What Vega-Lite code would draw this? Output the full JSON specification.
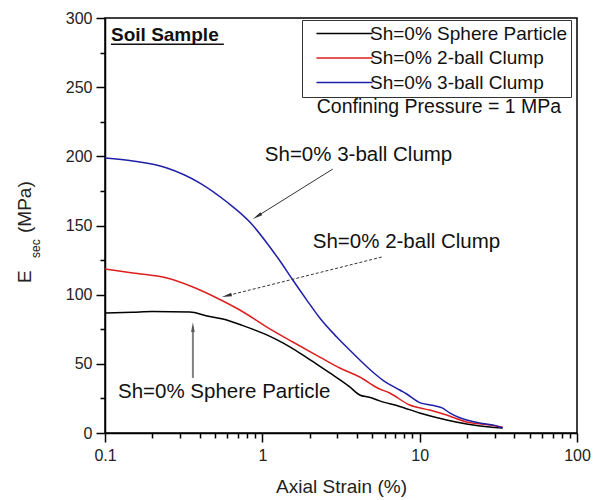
{
  "$schema": "https://vega.github.io/schema/vega-lite/v6.json",
  "autosize": {"type": "none"},
  "padding": {"left": 105, "top": 18, "right": 21, "bottom": 67},
  "width": 472,
  "height": 415,
  "background": "white",
  "config": {
    "view": {"stroke": "black", "strokeWidth": 1.5},
    "font": "Liberation Sans",
    "axis": {"labelFont": "Liberation Sans", "titleFont": "Liberation Sans", "labelColor": "#222", "titleColor": "#222", "domainColor": "black", "domainWidth": 1.5, "tickColor": "black", "tickWidth": 1.5, "grid": false, "ticks": true}
  },
  "resolve": {"axis": {"x": "independent", "y": "independent"}},
  "layer": [
    {
      "data": {"values": [
        {"series": "Sh=0% Sphere Particle", "strain": 0.1, "esec": 86.7},
        {"series": "Sh=0% Sphere Particle", "strain": 0.15, "esec": 87.3},
        {"series": "Sh=0% Sphere Particle", "strain": 0.2, "esec": 87.8},
        {"series": "Sh=0% Sphere Particle", "strain": 0.3465, "esec": 87.5},
        {"series": "Sh=0% Sphere Particle", "strain": 0.4444, "esec": 84.6},
        {"series": "Sh=0% Sphere Particle", "strain": 0.5615, "esec": 82.4},
        {"series": "Sh=0% Sphere Particle", "strain": 0.7518, "esec": 77.6},
        {"series": "Sh=0% Sphere Particle", "strain": 1.068, "esec": 70.9},
        {"series": "Sh=0% Sphere Particle", "strain": 1.35, "esec": 65.1},
        {"series": "Sh=0% Sphere Particle", "strain": 1.73, "esec": 57.8},
        {"series": "Sh=0% Sphere Particle", "strain": 2.2, "esec": 50.0},
        {"series": "Sh=0% Sphere Particle", "strain": 2.683, "esec": 43.4},
        {"series": "Sh=0% Sphere Particle", "strain": 3.594, "esec": 33.3},
        {"series": "Sh=0% Sphere Particle", "strain": 4.159, "esec": 27.5},
        {"series": "Sh=0% Sphere Particle", "strain": 4.8, "esec": 25.8},
        {"series": "Sh=0% Sphere Particle", "strain": 5.572, "esec": 23.2},
        {"series": "Sh=0% Sphere Particle", "strain": 7.464, "esec": 19.2},
        {"series": "Sh=0% Sphere Particle", "strain": 10, "esec": 14.5},
        {"series": "Sh=0% Sphere Particle", "strain": 14.84, "esec": 9.4},
        {"series": "Sh=0% Sphere Particle", "strain": 19.88, "esec": 6.5},
        {"series": "Sh=0% Sphere Particle", "strain": 27.83, "esec": 4.3},
        {"series": "Sh=0% Sphere Particle", "strain": 33.65, "esec": 3.6},
        {"series": "Sh=0% 2-ball Clump", "strain": 0.1, "esec": 118.6},
        {"series": "Sh=0% 2-ball Clump", "strain": 0.1506, "esec": 115.7},
        {"series": "Sh=0% 2-ball Clump", "strain": 0.2475, "esec": 112.0},
        {"series": "Sh=0% 2-ball Clump", "strain": 0.362, "esec": 105.5},
        {"series": "Sh=0% 2-ball Clump", "strain": 0.514, "esec": 97.6},
        {"series": "Sh=0% 2-ball Clump", "strain": 0.7197, "esec": 88.9},
        {"series": "Sh=0% 2-ball Clump", "strain": 1.068, "esec": 76.6},
        {"series": "Sh=0% 2-ball Clump", "strain": 1.562, "esec": 65.8},
        {"series": "Sh=0% 2-ball Clump", "strain": 2.318, "esec": 54.9},
        {"series": "Sh=0% 2-ball Clump", "strain": 3.105, "esec": 47.0},
        {"series": "Sh=0% 2-ball Clump", "strain": 4.159, "esec": 40.5},
        {"series": "Sh=0% 2-ball Clump", "strain": 5.4, "esec": 32.5},
        {"series": "Sh=0% 2-ball Clump", "strain": 6.449, "esec": 28.9},
        {"series": "Sh=0% 2-ball Clump", "strain": 8.64, "esec": 20.2},
        {"series": "Sh=0% 2-ball Clump", "strain": 11.57, "esec": 16.6},
        {"series": "Sh=0% 2-ball Clump", "strain": 14.84, "esec": 13.0},
        {"series": "Sh=0% 2-ball Clump", "strain": 19.88, "esec": 8.0},
        {"series": "Sh=0% 2-ball Clump", "strain": 27.83, "esec": 5.8},
        {"series": "Sh=0% 2-ball Clump", "strain": 33.65, "esec": 4.3},
        {"series": "Sh=0% 3-ball Clump", "strain": 0.1, "esec": 198.8},
        {"series": "Sh=0% 3-ball Clump", "strain": 0.1506, "esec": 196.6},
        {"series": "Sh=0% 3-ball Clump", "strain": 0.2475, "esec": 191.6},
        {"series": "Sh=0% 3-ball Clump", "strain": 0.4011, "esec": 180.7},
        {"series": "Sh=0% 3-ball Clump", "strain": 0.5953, "esec": 167.0},
        {"series": "Sh=0% 3-ball Clump", "strain": 0.8329, "esec": 152.5},
        {"series": "Sh=0% 3-ball Clump", "strain": 1.116, "esec": 134.5},
        {"series": "Sh=0% 3-ball Clump", "strain": 1.292, "esec": 124.5},
        {"series": "Sh=0% 3-ball Clump", "strain": 1.562, "esec": 110.6},
        {"series": "Sh=0% 3-ball Clump", "strain": 1.917, "esec": 96.1},
        {"series": "Sh=0% 3-ball Clump", "strain": 2.318, "esec": 83.1},
        {"series": "Sh=0% 3-ball Clump", "strain": 2.972, "esec": 69.4},
        {"series": "Sh=0% 3-ball Clump", "strain": 3.755, "esec": 57.8},
        {"series": "Sh=0% 3-ball Clump", "strain": 5.03, "esec": 44.1},
        {"series": "Sh=0% 3-ball Clump", "strain": 5.82, "esec": 38.3},
        {"series": "Sh=0% 3-ball Clump", "strain": 7.464, "esec": 31.1},
        {"series": "Sh=0% 3-ball Clump", "strain": 8.27, "esec": 28.2},
        {"series": "Sh=0% 3-ball Clump", "strain": 10, "esec": 22.0},
        {"series": "Sh=0% 3-ball Clump", "strain": 12, "esec": 20.0},
        {"series": "Sh=0% 3-ball Clump", "strain": 14, "esec": 18.0},
        {"series": "Sh=0% 3-ball Clump", "strain": 15.5, "esec": 14.5},
        {"series": "Sh=0% 3-ball Clump", "strain": 18, "esec": 11.0},
        {"series": "Sh=0% 3-ball Clump", "strain": 24.05, "esec": 7.2},
        {"series": "Sh=0% 3-ball Clump", "strain": 30, "esec": 5.5},
        {"series": "Sh=0% 3-ball Clump", "strain": 33.65, "esec": 3.6}
      ]},
      "mark": {"type": "line", "strokeWidth": 1.5, "interpolate": "monotone"},
      "encoding": {
        "x": {"field": "strain", "type": "quantitative",
          "scale": {"type": "log", "domain": [0.1, 100], "nice": false},
          "axis": {"orient": "bottom", "title": "Axial Strain (%)", "titleFontSize": 19, "titleFontWeight": "normal", "titlePadding": 14,
            "values": [0.1, 1, 10, 100],
            "labelExpr": "datum.value == 0.1 ? '0.1' : datum.value == 1 ? '1' : datum.value == 10 ? '10' : '100'",
            "ticks": true, "tickSize": 9, "labelFontSize": 16, "labelPadding": 5, "labelFlush": false, "labelOverlap": false}},
        "y": {"field": "esec", "type": "quantitative",
          "scale": {"domain": [0, 300], "nice": false, "zero": true},
          "axis": {"orient": "left", "title": null,
            "values": [0, 50, 100, 150, 200, 250, 300],
            "ticks": true, "tickSize": 9, "labelFontSize": 16, "labelPadding": 4, "labelOverlap": false}},
        "color": {"field": "series", "type": "nominal", "sort": ["Sh=0% Sphere Particle", "Sh=0% 2-ball Clump", "Sh=0% 3-ball Clump"],
          "scale": {"domain": ["Sh=0% Sphere Particle", "Sh=0% 2-ball Clump", "Sh=0% 3-ball Clump"], "range": ["#000000", "#dd1f1f", "#1f1fa8"]},
          "legend": {"orient": "none", "legendX": 197, "legendY": 2, "title": null,
            "symbolType": "M-3.4,0H3.4", "symbolSize": 272, "symbolStrokeWidth": 1.5, "symbolOffset": 29,
            "labelOffset": 16, "labelLimit": 0, "labelFontSize": 19, "labelFont": "Liberation Sans", "labelColor": "#111",
            "padding": 4, "rowPadding": 4.5, "strokeColor": "#333", "fillColor": "white"}}
      }
    },
    {
      "data": {"values": [{"strain": 2.804, "esec": 190.8, "strain2": 0.9254, "esec2": 156.6}]},
      "mark": {"type": "rule", "color": "#333", "strokeWidth": 1},
      "encoding": {
        "x": {"field": "strain", "type": "quantitative",
          "axis": {"orient": "bottom", "title": null, "domain": false, "labels": false, "ticks": true, "tickSize": 5,
            "values": [0.2,0.3,0.4,0.5,0.6,0.7,0.8,0.9,2,3,4,5,6,7,8,9,20,30,40,50,60,70,80,90]}},
        "y": {"field": "esec", "type": "quantitative",
          "axis": {"orient": "left", "title": null, "domain": false, "labels": false, "ticks": true, "tickSize": 5,
            "values": [25, 75, 125, 175, 225, 275]}},
        "x2": {"field": "strain2"}, "y2": {"field": "esec2"}}
    },
    {
      "data": {"values": [{"strain": 0.9254, "esec": 156.6}]},
      "mark": {"type": "point", "shape": "M0,-1L0.35,1L-0.35,1Z", "filled": true, "size": 100, "angle": 238, "color": "#333", "opacity": 1},
      "encoding": {"x": {"field": "strain", "type": "quantitative", "axis": null}, "y": {"field": "esec", "type": "quantitative", "axis": null}}
    },
    {
      "data": {"values": [{"strain": 5.737, "esec": 127.2, "strain2": 0.5939, "esec2": 99.2}]},
      "mark": {"type": "rule", "color": "#333", "strokeWidth": 1, "strokeDash": [3, 2]},
      "encoding": {"x": {"field": "strain", "type": "quantitative", "axis": null}, "y": {"field": "esec", "type": "quantitative", "axis": null}, "x2": {"field": "strain2"}, "y2": {"field": "esec2"}}
    },
    {
      "data": {"values": [{"strain": 0.5939, "esec": 99.2}]},
      "mark": {"type": "point", "shape": "M0,-1L0.35,1L-0.35,1Z", "filled": true, "size": 100, "angle": 256, "color": "#333", "opacity": 1},
      "encoding": {"x": {"field": "strain", "type": "quantitative", "axis": null}, "y": {"field": "esec", "type": "quantitative", "axis": null}}
    },
    {
      "data": {"values": [{"strain": 0.362, "esec": 39.8, "esec2": 76.6}]},
      "mark": {"type": "rule", "color": "#808080", "strokeWidth": 2},
      "encoding": {"x": {"field": "strain", "type": "quantitative", "axis": null}, "y": {"field": "esec", "type": "quantitative", "axis": null}, "y2": {"field": "esec2"}}
    },
    {
      "data": {"values": [{"strain": 0.362, "esec": 76.6}]},
      "mark": {"type": "point", "shape": "M0,-1L0.35,1L-0.35,1Z", "filled": true, "size": 100, "angle": 0, "color": "#555", "opacity": 1},
      "encoding": {"x": {"field": "strain", "type": "quantitative", "axis": null}, "y": {"field": "esec", "type": "quantitative", "axis": null}}
    },
    {
      "data": {"values": [
        {"strain": 1.037, "esec": 196.6, "label": "Sh=0% 3-ball Clump"},
        {"strain": 2.092, "esec": 133.7, "label": "Sh=0% 2-ball Clump"},
        {"strain": 0.1209, "esec": 25.3, "label": "Sh=0% Sphere Particle"}
      ]},
      "mark": {"type": "text", "align": "left", "baseline": "alphabetic", "fontSize": 20.5, "font": "Liberation Sans", "color": "#111"},
      "encoding": {"x": {"field": "strain", "type": "quantitative", "axis": null}, "y": {"field": "esec", "type": "quantitative", "axis": null}, "text": {"field": "label"}}
    },
    {
      "data": {"values": [{"strain": 2.218, "esec": 231.3, "label": "Confining Pressure = 1 MPa"}]},
      "mark": {"type": "text", "align": "left", "baseline": "alphabetic", "fontSize": 19.5, "font": "Liberation Sans", "color": "#111"},
      "encoding": {"x": {"field": "strain", "type": "quantitative", "axis": null}, "y": {"field": "esec", "type": "quantitative", "axis": null}, "text": {"field": "label"}}
    },
    {
      "data": {"values": [{"strain": 0.1092, "esec": 283.4, "label": "Soil Sample"}]},
      "mark": {"type": "text", "align": "left", "baseline": "alphabetic", "fontSize": 19, "fontWeight": "bold", "font": "Liberation Sans", "color": "#111"},
      "encoding": {"x": {"field": "strain", "type": "quantitative", "axis": null}, "y": {"field": "esec", "type": "quantitative", "axis": null}, "text": {"field": "label"}}
    },
    {
      "data": {"values": [{"strain": 0.1092, "esec": 281.0, "strain2": 0.5696}]},
      "mark": {"type": "rule", "color": "#111", "strokeWidth": 1.5},
      "encoding": {"x": {"field": "strain", "type": "quantitative", "axis": null}, "y": {"field": "esec", "type": "quantitative", "axis": null}, "x2": {"field": "strain2"}}
    },
    {
      "data": {"values": [
        {"strain": 0.0339, "esec": 108.4, "label": "E"},
        {"strain": 0.0339, "esec": 144.6, "label": "(MPa)"}
      ]},
      "mark": {"type": "text", "align": "left", "baseline": "alphabetic", "angle": 270, "fontSize": 19, "font": "Liberation Sans", "color": "#222"},
      "encoding": {"x": {"field": "strain", "type": "quantitative", "axis": null}, "y": {"field": "esec", "type": "quantitative", "axis": null}, "text": {"field": "label"}}
    },
    {
      "data": {"values": [{"strain": 0.0387, "esec": 126.5, "label": "sec"}]},
      "mark": {"type": "text", "align": "left", "baseline": "alphabetic", "angle": 270, "fontSize": 12, "font": "Liberation Sans", "color": "#222"},
      "encoding": {"x": {"field": "strain", "type": "quantitative", "axis": null}, "y": {"field": "esec", "type": "quantitative", "axis": null}, "text": {"field": "label"}}
    }
  ]
}
